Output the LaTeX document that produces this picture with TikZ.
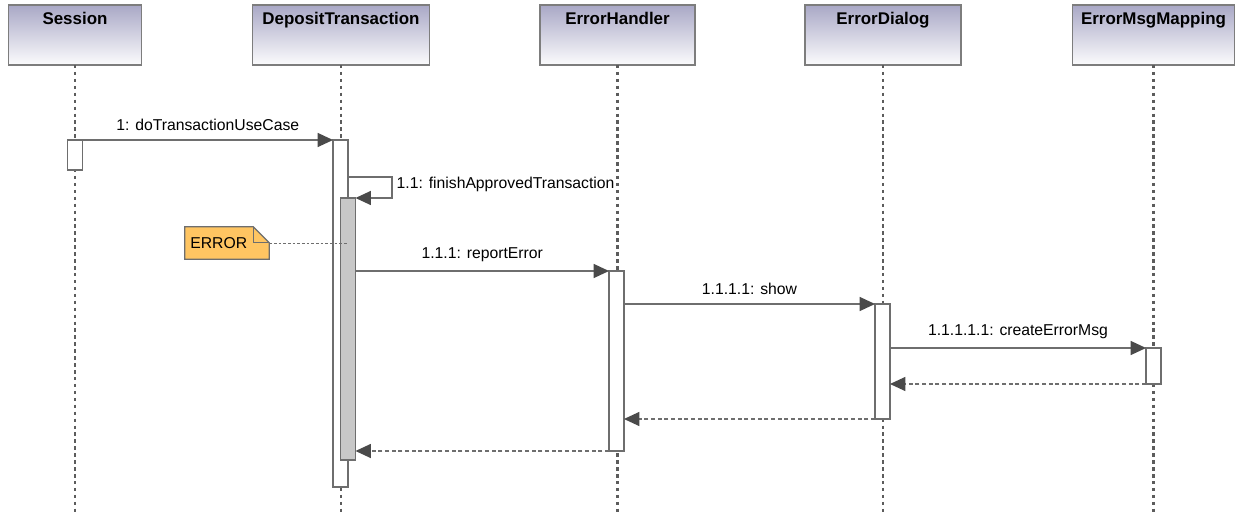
\documentclass[tikz,border=0pt]{standalone}
\usepackage{fontspec}
\setmainfont{Liberation Sans}
\usepackage{xcolor}
\usepackage{tikz}
\usetikzlibrary{arrows.meta, positioning, calc, backgrounds}
\definecolor{sline}{HTML}{6E6E6E}
\definecolor{shead}{HTML}{A9A8C6}
\definecolor{stip}{HTML}{4A4A4A}
\definecolor{sbar}{HTML}{C8C8C8}
\definecolor{snote}{HTML}{FFC562}

\begin{document}
\begin{tikzpicture}[x=0.75pt, y=-0.75pt,
  head/.style={draw=sline!90, line width=1pt, top color=shead, bottom color=white!96!shead,
    inner sep=0pt, outer sep=0pt, minimum height=45pt,
    label={[anchor=north, yshift=-2pt, font=\fontsize{12.7}{15}\selectfont\bfseries]north:#1}},
  life/.style={stip!90, line width=2.2pt, dash pattern=on 2.6pt off 2.6pt},
  act/.style={draw=sline, fill=white, line width=0.9pt, inner sep=0pt, outer sep=0pt,
    minimum width=11.25pt, anchor=north, minimum height=#1*0.75pt},
  msg/.style={sline, line width=0.9pt, -{Triangle[length=11.5pt, width=10.5pt, color=stip]}},
  ret/.style={msg, dash pattern=on 3pt off 2pt},
  lbl/.style={text=black, font=\fontsize{11.8}{14}\selectfont, above=3.5pt, midway}]
\useasboundingbox (0,0) rectangle (1239,513);
\coordinate (bot) at (0,513);

% lifeline heads
\node[head=Session, minimum width=99.75pt] (ses) at (75,35) {};
\node[head=DepositTransaction, minimum width=132.75pt] (dep) at (341,35) {};
\node[head=ErrorHandler, minimum width=116.25pt] (eh) at (617.5,35) {};
\node[head=ErrorDialog, minimum width=117pt] (ed) at (883,35) {};
\node[head=ErrorMsgMapping, minimum width=121.5pt] (em) at (1153.5,35) {};

\foreach \h in {ses,dep,eh,ed,em}
  \draw[life] (\h.south) -- (\h.south |- bot);

% activations
\node[act=30] (sesA) at (75,140) {};
\node[act=347] (depA) at (340.5,140) {};
\node[act=262, fill=sbar] (depB) at (348,198) {};
\node[act=180] (ehA) at (616.5,271) {};
\node[act=115] (edA) at (882.5,304) {};
\node[act=36] (emA) at (1153.5,348) {};

% messages
\draw[msg] (sesA.north east) -- (depA.north west) node[lbl] {1: doTransactionUseCase};
\draw[msg] ($(depA.north east)+(0,37)$) -- ++(44,0) coordinate (selfR) |- (depB.north east);
\node[font=\fontsize{11.8}{14}\selectfont, anchor=west] (selfL) at ($(selfR)+(0,7)$)
  {1.1: finishApprovedTransaction};
\draw[msg] (depB.east |- ehA.north) -- (ehA.north west) node[lbl] {1.1.1: reportError};
\draw[msg] (ehA.east |- edA.north) -- (edA.north west) node[lbl] {1.1.1.1: show};
\draw[msg] (edA.east |- emA.north) -- (emA.north west) node[lbl] {1.1.1.1.1: createErrorMsg};
\draw[ret] (emA.south west) -- (edA.east |- emA.south);
\draw[ret] (edA.south west) -- (ehA.east |- edA.south);
\draw[ret] (ehA.south west) -- (depB.east |- ehA.south);

% note
\node[font=\fontsize{11.8}{14}\selectfont, text width=55pt, inner sep=4pt, align=left,
  minimum height=24pt] (err) at (227,243) {ERROR};
\begin{scope}[on background layer]
\draw[sline, line width=0.9pt, fill=snote]
  (err.north west) -- ($(err.north east)+(-16,0)$) -- ($(err.north east)+(0,16)$)
  -- (err.south east) -- (err.south west) -- cycle;
\draw[sline, line width=0.9pt] ($(err.north east)+(-16,0)$) |- ($(err.north east)+(0,16)$);
\end{scope}
\draw[sline, line width=0.7pt, dash pattern=on 2pt off 1.5pt] (err.east) -- (depB.center |- err.east);
\end{tikzpicture}
\end{document}
